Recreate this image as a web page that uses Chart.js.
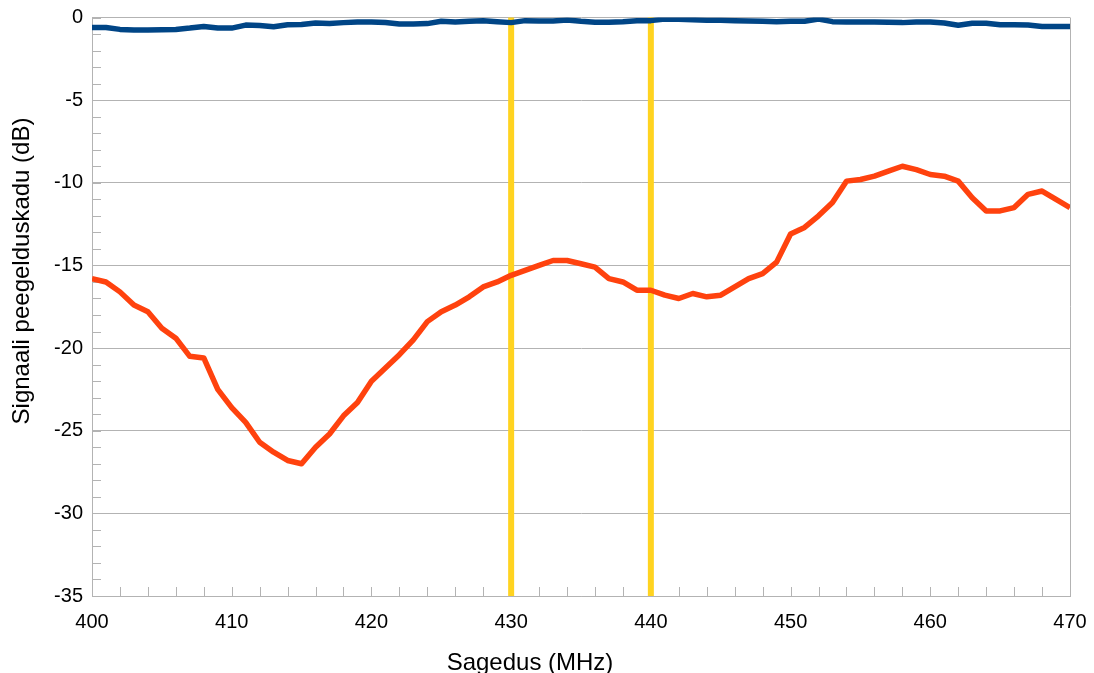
<!DOCTYPE html>
<html>
<head>
<meta charset="utf-8">
<script src="https://cdn.jsdelivr.net/npm/chart.js@4/dist/chart.umd.min.js"></script>
<style>
  html, body { margin: 0; padding: 0; background: #fff; }
  #wrap { width: 1094px; height: 673px; }
</style>
</head>
<body>
<div id="wrap"><canvas id="c"></canvas></div>
<script>
// sagedus, MHz
const freq = [
  400, 401, 402, 403, 404, 405, 406, 407, 408, 409,
  410, 411, 412, 413, 414, 415, 416, 417, 418, 419,
  420, 421, 422, 423, 424, 425, 426, 427, 428, 429,
  430, 431, 432, 433, 434, 435, 436, 437, 438, 439,
  440, 441, 442, 443, 444, 445, 446, 447, 448, 449,
  450, 451, 452, 453, 454, 455, 456, 457, 458, 459,
  460, 461, 462, 463, 464, 465, 466, 467, 468, 469,
  470
];

// ülekanne, dB
const ulekanne = [
  -0.60, -0.60, -0.72, -0.76, -0.76, -0.74, -0.72, -0.64, -0.54, -0.64,
  -0.64, -0.46, -0.48, -0.56, -0.44, -0.42, -0.33, -0.37, -0.31, -0.27,
  -0.27, -0.30, -0.39, -0.39, -0.37, -0.23, -0.27, -0.23, -0.19, -0.25,
  -0.31, -0.19, -0.21, -0.21, -0.15, -0.23, -0.29, -0.29, -0.25, -0.19,
  -0.19, -0.09, -0.11, -0.13, -0.17, -0.17, -0.19, -0.21, -0.23, -0.25,
  -0.23, -0.23, -0.09, -0.25, -0.27, -0.27, -0.27, -0.29, -0.31, -0.27,
  -0.27, -0.33, -0.47, -0.35, -0.35, -0.44, -0.44, -0.46, -0.54, -0.54,
  -0.54
];

// peegeldus, dB
const peegeldus = [
  -15.8, -16.0, -16.6, -17.4, -17.8, -18.8, -19.4, -20.5, -20.6, -22.5,
  -23.6, -24.5, -25.7, -26.3, -26.8, -27.0, -26.0, -25.2, -24.1, -23.3,
  -22.0, -21.2, -20.4, -19.5, -18.4, -17.8, -17.4, -16.9, -16.3, -16.0,
  -15.6, -15.3, -15.0, -14.7, -14.7, -14.9, -15.1, -15.8, -16.0, -16.5,
  -16.5, -16.8, -17.0, -16.7, -16.9, -16.8, -16.3, -15.8, -15.5, -14.8,
  -13.1, -12.7, -12.0, -11.2, -9.9, -9.8, -9.6, -9.3, -9.0, -9.2,
  -9.5, -9.6, -9.9, -10.9, -11.7, -11.7, -11.5, -10.7, -10.5, -11.0,
  -11.5
];

// töösageduse piirid, MHz
const piirid = [430, 440];

const yMin = -35, yMax = 0;
const xMin = 400, xMax = 470;

const xTitle = 'Sagedus (MHz)';
const yTitle = 'Signaali peegelduskadu (dB)';

const font = "'Liberation Sans', Arial, sans-serif";
const gridColor = '#b3b3b3';

const points = vals => freq.map((f, i) => ({ x: f, y: vals[i] }));

const datasets = [
  { data: points(ulekanne), borderColor: '#004586', borderWidth: 5.5 },
  { data: points(peegeldus), borderColor: '#ff420e', borderWidth: 5.5 }
];
piirid.forEach(f => datasets.push({
  data: [{ x: f, y: yMax }, { x: f, y: yMin }],
  borderColor: '#ffd320',
  borderWidth: 6
}));

// väikesed jaotised telgedel ja parempoolne raam
const axisMarks = {
  id: 'axisMarks',
  beforeDatasetsDraw(chart) {
    const { ctx, chartArea: a, scales: { x, y } } = chart;
    ctx.save();
    ctx.strokeStyle = gridColor;
    ctx.lineWidth = 1;
    ctx.beginPath();
    for (let v = yMin; v <= yMax; v += 1) {
      const py = Math.round(y.getPixelForValue(v)) + 0.5;
      ctx.moveTo(a.left, py);
      ctx.lineTo(a.left + 9, py);
    }
    for (let v = xMin; v <= xMax; v += 2) {
      const px = Math.round(x.getPixelForValue(v)) + 0.5;
      ctx.moveTo(px, a.bottom);
      ctx.lineTo(px, a.bottom - 9);
    }
    const rx = Math.round(a.right) + 0.5;
    ctx.moveTo(rx, a.top);
    ctx.lineTo(rx, a.bottom);
    ctx.stroke();
    ctx.restore();
  },
  // telgede pealkirjad
  afterDraw(chart) {
    const { ctx } = chart;
    ctx.save();
    ctx.fillStyle = '#000';
    ctx.font = '24px ' + font;
    ctx.textBaseline = 'alphabetic';
    ctx.textAlign = 'center';
    ctx.fillText(xTitle, 530, 669.5);
    ctx.translate(28.5, 271);
    ctx.rotate(-Math.PI / 2);
    ctx.fillText(yTitle, 0, 0);
    ctx.restore();
  }
};

new Chart(document.getElementById('c'), {
  type: 'line',
  data: { datasets },
  plugins: [axisMarks],
  options: {
    responsive: true,
    maintainAspectRatio: false,
    animation: false,
    layout: { padding: { top: 17.5, right: 24, bottom: 0, left: 0 } },
    elements: {
      point: { radius: 0 },
      line: { tension: 0, borderCapStyle: 'butt', borderJoinStyle: 'round' }
    },
    plugins: {
      legend: { display: false },
      tooltip: { enabled: false }
    },
    scales: {
      x: {
        type: 'linear',
        min: xMin,
        max: xMax,
        afterFit: s => { s.height = 77; s.paddingLeft = 0; s.paddingRight = 0; },
        grid: { display: false, drawTicks: false },
        border: { display: true, color: gridColor },
        ticks: { stepSize: 10, padding: 14, color: '#000', font: { family: font, size: 20 } }
      },
      y: {
        min: yMin,
        max: yMax,
        afterFit: s => { s.width = 92; s.paddingTop = 0; s.paddingBottom = 0; },
        grid: { color: gridColor, drawTicks: false },
        border: { display: true, color: gridColor },
        ticks: { stepSize: 5, padding: 9, color: '#000', font: { family: font, size: 20 } }
      }
    }
  }
});
</script>
</body>
</html>
